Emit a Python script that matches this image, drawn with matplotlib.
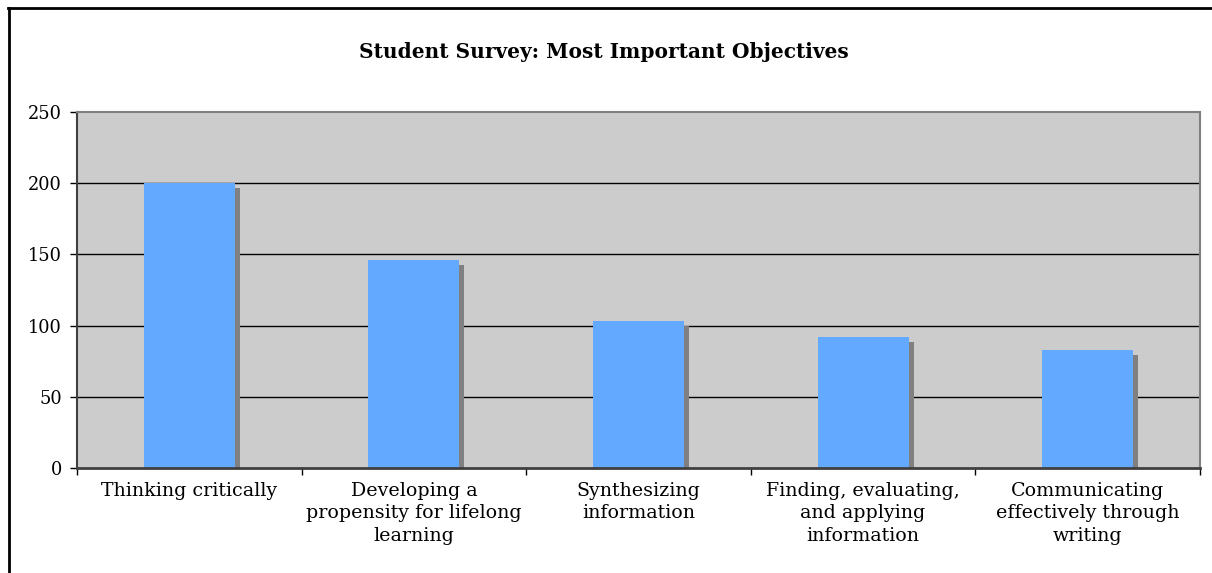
import matplotlib
matplotlib.use('Agg')
import matplotlib.pyplot as plt
from matplotlib.transforms import ScaledTranslation
from matplotlib.lines import Line2D

categories = ['Thinking critically',
              'Developing a\npropensity for lifelong\nlearning',
              'Synthesizing\ninformation',
              'Finding, evaluating,\nand applying\ninformation',
              'Communicating\neffectively through\nwriting']
counts = [200, 146, 103, 92, 83]
yticks = [0, 50, 100, 150, 200, 250]

plt.rcParams['font.family'] = ['DejaVu Serif']

fig = plt.figure(figsize=(12.12, 5.73), dpi=100)
W, H = 1212, 573
ax = fig.add_axes([77 / W, (H - 468) / H, 1123 / W, 356 / H])
ax.set_facecolor('#cccccc')

x = list(range(len(categories)))
bw = 0.405

# shadow, shifted 5px right and 5px down
shadow = ax.transData + ScaledTranslation(5 / 100, -5 / 100, fig.dpi_scale_trans)
ax.bar(x, counts, width=bw, color='#808080', transform=shadow, zorder=2)
ax.bar(x, counts, width=bw, color='#63a9ff', zorder=3)

for v in yticks[1:-1]:
    ax.axhline(v, color='black', lw=1.0, zorder=1)

ax.set_xlim(-0.5, len(categories) - 0.5)
ax.set_ylim(0, 250)
ax.set_yticks(yticks)
ax.set_xticks(x)
ax.set_xticklabels(categories, fontsize=13.7, linespacing=1.32, va='top')
ax.set_xticks([i - 0.5 for i in range(len(categories) + 1)], minor=True)
ax.tick_params(axis='x', which='major', length=0, pad=10)
ax.tick_params(axis='x', which='minor', length=5, width=1, color='black')
ax.tick_params(axis='y', length=5, width=1, color='black', pad=6, labelsize=12.8)

for s in ['top', 'right', 'left']:
    ax.spines[s].set_color('#808080')
    ax.spines[s].set_linewidth(1.5)
ax.spines['left'].set_color('#404040')
ax.spines['bottom'].set_color('#404040')
ax.spines['bottom'].set_linewidth(2)
for s in ax.spines.values():
    s.set_zorder(4)

fig.text(604 / W, 1 - 52 / H, 'Student Survey: Most Important Objectives',
         ha='center', va='center', fontsize=14.5, fontweight='bold')

# outer chart frame (left and top edges visible)
fig.add_artist(Line2D([9 / W, 9 / W], [0, 1 - 8 / H], color='black', lw=2))
fig.add_artist(Line2D([8 / W, 1], [1 - 8 / H, 1 - 8 / H], color='black', lw=2))

fig.savefig('out.png', dpi=100)
